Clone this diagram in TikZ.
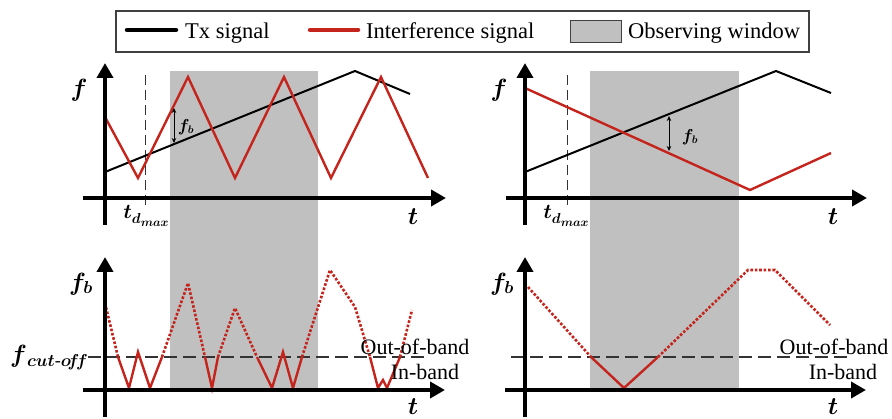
\documentclass[tikz,border=0pt]{standalone}
\usepackage{amsmath}
\usepackage{fontspec}
\setmainfont{Liberation Serif}
\usetikzlibrary{arrows.meta}
\definecolor{sigred}{RGB}{196,36,28}
\definecolor{wingray}{RGB}{192,192,192}
\newcommand{\tdmaxlab}{\fontsize{22}{26}\selectfont$\boldsymbol{t}$\raisebox{-5pt}{\fontsize{15}{18}\selectfont$\boldsymbol{d}$\raisebox{-3pt}{\fontsize{12}{14}\selectfont$\boldsymbol{max}$}}}
\begin{document}
\begin{tikzpicture}[x=1pt,y=-1pt,
  axis/.style={line width=4pt,-{Triangle[length=15pt,width=16pt]}},
  tx/.style={line width=2pt,black,line join=miter},
  intf/.style={line width=2.4pt,sigred,line join=miter},
  inband/.style={line width=2.4pt,sigred,line join=miter},
  outband/.style={line width=2.6pt,sigred,dash pattern=on 2.6pt off 1.8pt},
  vdash/.style={line width=1pt,black!80,dash pattern=on 10pt off 5pt},
  cutdash/.style={line width=1.3pt,black!80,dash pattern=on 13pt off 6pt},
  fbarrow/.style={line width=1pt,{Stealth[length=5pt,width=4.5pt]}-{Stealth[length=5pt,width=4.5pt]}},
  legtext/.style={anchor=west,inner sep=0pt,font=\fontsize{22.5}{26}\selectfont},
  bandtext/.style={inner sep=0pt,font=\fontsize{22}{26}\selectfont},
  lab/.style={inner sep=0pt},
]
\useasboundingbox (0,0) rectangle (892,419);
% observing windows
\fill[wingray] (170,71) rectangle (318,388);
\fill[wingray] (590,71) rectangle (739,388);
% legend
\node[draw=black!75,line width=1.2pt,minimum width=693pt,minimum height=41pt,inner sep=0pt] (legend) at (462.5,31.5) {};
\coordinate (l1a) at (127,30); \coordinate (l1b) at (176,30);
\draw[line width=4.5pt,line cap=round] (l1a) -- (l1b);
\node[legtext] (l1t) at (185,33) {Tx signal};
\coordinate (l2a) at (310,30); \coordinate (l2b) at (358,30);
\draw[line width=4.5pt,line cap=round,sigred] (l2a) -- (l2b);
\node[legtext] (l2t) at (366,33) {Interference signal};
\node[draw=black!75,fill=wingray,line width=1pt,minimum width=51pt,minimum height=22pt,inner sep=0pt] (l3sw) at (595.5,32) {};
\node[legtext] (l3t) at (628,33) {Observing window};

% ===== top-left =====
\draw[vdash] (145,75) -- (145,208);
\draw[tx] (105,172) -- (355,71) -- (410,94);
\draw[intf] (105,117) -- (138,178) -- (188,77) -- (235,178) -- (284,77) -- (331,178) -- (381,77) -- (428,178);
\coordinate (fbLa) at (174,108); \coordinate (fbLb) at (174,143);
\draw[fbarrow] (fbLa) -- (fbLb);
\node[lab,font=\fontsize{16}{18}\selectfont] (fbLt) at (186,127) {$\boldsymbol{f_b}$};
\draw[axis] (105,225) -- (105,63);
\draw[axis] (83,198) -- (446,198);
\node[lab,font=\fontsize{24}{28}\selectfont] (fL) at (79,90) {$\boldsymbol{f}$};
\node[lab,font=\fontsize{28}{32}\selectfont] (tL) at (413,217) {$\boldsymbol{t}$};
\node[lab] (tdL) at (146,216) {\tdmaxlab};

% ===== top-right =====
\draw[vdash] (567,75) -- (567,208);
\draw[tx] (525,172) -- (776,71) -- (831,93);
\draw[intf] (525,88) -- (750,190) -- (831,153);
\coordinate (fbRa) at (669,116); \coordinate (fbRb) at (669,151);
\draw[fbarrow] (fbRa) -- (fbRb);
\node[lab,font=\fontsize{16}{18}\selectfont] (fbRt) at (690,137) {$\boldsymbol{f_b}$};
\draw[axis] (525,225) -- (525,63);
\draw[axis] (506,198) -- (867,198);
\node[lab,font=\fontsize{24}{28}\selectfont] (fR) at (499,90) {$\boldsymbol{f}$};
\node[lab,font=\fontsize{28}{32}\selectfont] (tR) at (833,217) {$\boldsymbol{t}$};
\node[lab] (tdR) at (566,216) {\tdmaxlab};

% ===== bottom-left =====
\draw[cutdash] (88,357) -- (427,357);
\draw[outband] (105,303) -- (118,357);
\draw[inband] (118,357) -- (129,388) -- (138,352) -- (150,388) -- (162,357);
\draw[outband] (162,357) -- (188,283) -- (205,357);
\draw[inband] (205,357) -- (212,388) -- (218,357);
\draw[outband] (218,357) -- (235,308) -- (257,357);
\draw[inband] (257,357) -- (272,388) -- (283,352) -- (293,388) -- (302,357);
\draw[outband] (302,357) -- (330,270) -- (355,307) -- (370,357);
\draw[inband] (370,357) -- (378,388) -- (383,380) -- (387,388) -- (400,357);
\draw[outband] (400,357) -- (412,310);
\draw[axis] (105,417) -- (105,257);
\draw[axis] (83,390) -- (445,390);
\node[lab,font=\fontsize{24}{28}\selectfont] (fbBL) at (81,284) {$\boldsymbol{f_b}$};
\node[lab,anchor=east] (fcut) at (88,358) {\fontsize{24}{28}\selectfont$\boldsymbol{f}$\raisebox{-4pt}{\fontsize{18}{20}\selectfont$\boldsymbol{cut}$-$\boldsymbol{o\!f\!f}$}};
\node[lab,font=\fontsize{28}{32}\selectfont] (tBL) at (413,407) {$\boldsymbol{t}$};
\node[bandtext] (obL) at (415,347) {Out-of-band};
\node[bandtext] (ibL) at (425,372) {In-band};

% ===== bottom-right =====
\draw[cutdash] (511,357) -- (848,357);
\draw[outband] (528,287) -- (591,357);
\draw[inband] (591,357) -- (624,388) -- (658,357);
\draw[outband] (658,357) -- (748,270) -- (775,270) -- (830,325);
\draw[axis] (525,417) -- (525,257);
\draw[axis] (505,390) -- (866,390);
\node[lab,font=\fontsize{24}{28}\selectfont] (fbBR) at (502,284) {$\boldsymbol{f_b}$};
\node[lab,font=\fontsize{28}{32}\selectfont] (tBR) at (833,407) {$\boldsymbol{t}$};
\node[bandtext] (obR) at (834,347) {Out-of-band};
\node[bandtext] (ibR) at (843,372) {In-band};
\end{tikzpicture}
\end{document}
